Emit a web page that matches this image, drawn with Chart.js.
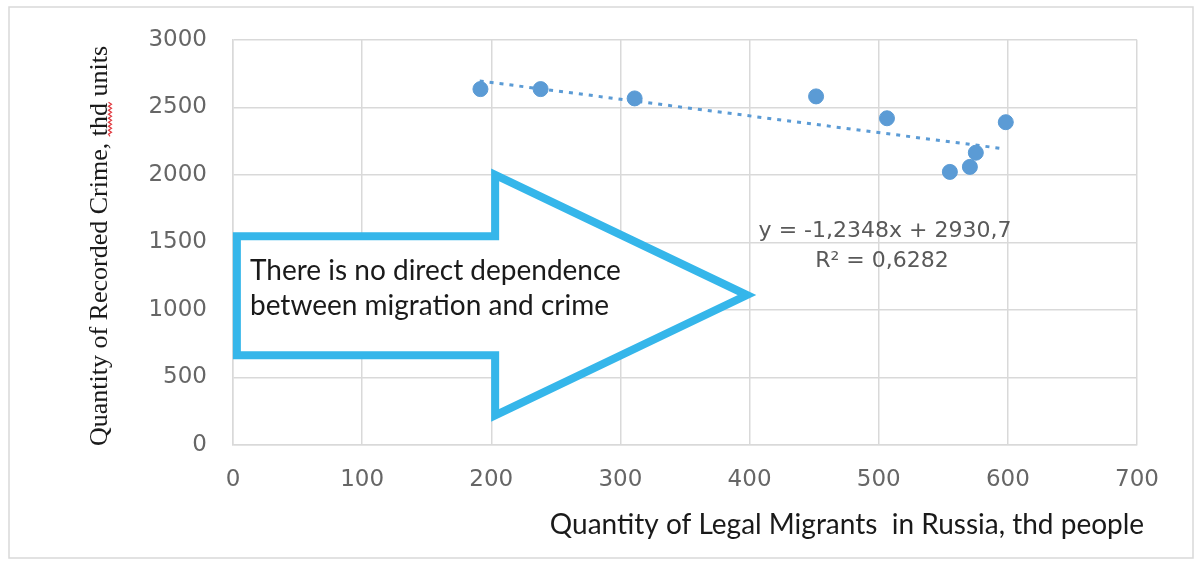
<!DOCTYPE html>
<html>
<head>
<meta charset="utf-8">
<script src="https://cdn.jsdelivr.net/npm/chart.js@4.4.0/dist/chart.umd.min.js"></script>
<style>
  html, body { margin: 0; padding: 0; background: #fff; }
  #wrap { width: 1198px; height: 563px; position: relative; }
</style>
</head>
<body>
<div id="wrap"><canvas id="migrationChart"></canvas></div>
<script>
// Legal migrants (thd people) vs recorded crime (thd units)
const migrants = [191.6, 238.2, 311, 451.5, 506.4, 598.4, 575.2, 570.6, 555.1];
const crimes = [2635, 2635, 2566, 2581, 2419, 2390, 2164, 2059, 2022];

// linear trendline end points (y = -1,2348x + 2930,7)
const trendX = [191, 598];
const trendY = [2695, 2192];

const xTicks = [0, 100, 200, 300, 400, 500, 600, 700];
const yTicks = [0, 500, 1000, 1500, 2000, 2500, 3000];

const xTitle = 'Quantity of Legal Migrants  in Russia, thd people';
const yTitleMain = 'Quantity of Recorded Crime, ';
const yTitleWord = 'thd';
const yTitleEnd = ' units';
const equationText = 'y = -1,2348x + 2930,7';
const rSquaredText = 'R² = 0,6282';
const noteLines = ['There is no direct dependence', 'between migration and crime'];

const BLUE = '#5b9bd5';
const GRID = '#d9d9d9';

const decorPlugin = {
    id: 'decor',
    beforeDraw(chart) {
        const ctx = chart.ctx;
        ctx.save();
        ctx.fillStyle = '#ffffff';
        ctx.fillRect(0, 0, chart.width, chart.height);
        ctx.strokeStyle = '#d9d9d9';
        ctx.lineWidth = 1.5;
        ctx.strokeRect(9, 7, chart.width - 14, chart.height - 12);
        ctx.restore();
    },
    afterDraw(chart) {
        const ctx = chart.ctx;
        const xs = chart.scales.x;
        const ys = chart.scales.y;

        // big arrow annotation, in data units
        const arrow = [[3, 1545], [203, 1545], [203, 2000], [398, 1110],
                       [203, 220], [203, 665], [3, 665]];
        ctx.save();
        ctx.beginPath();
        arrow.forEach(function(p, i) {
            const px = xs.getPixelForValue(p[0]);
            const py = ys.getPixelForValue(p[1]);
            if (i === 0) ctx.moveTo(px, py); else ctx.lineTo(px, py);
        });
        ctx.closePath();
        ctx.fillStyle = '#ffffff';
        ctx.fill();
        ctx.lineWidth = 8;
        ctx.lineJoin = 'miter';
        ctx.strokeStyle = '#35b6ea';
        ctx.stroke();

        ctx.fillStyle = '#1a1a1a';
        ctx.font = '28px Lato';
        ctx.textAlign = 'left';
        ctx.textBaseline = 'middle';
        ctx.fillText(noteLines[0], 250, 271);
        ctx.fillText(noteLines[1], 250, 306);

        // trendline label
        ctx.fillStyle = '#595959';
        ctx.font = '22px "DejaVu Sans"';
        ctx.textAlign = 'center';
        ctx.fillText(equationText, 885, 231);
        ctx.fillText(rSquaredText, 882, 261);

        // x axis title
        ctx.fillStyle = '#1a1a1a';
        ctx.font = '28px Lato';
        ctx.fillText(xTitle, 847, 525);

        // y axis title, rotated
        ctx.translate(100, 246);
        ctx.rotate(-Math.PI / 2);
        ctx.font = '26px "Liberation Serif"';
        const full = yTitleMain + yTitleWord + yTitleEnd;
        const w = ctx.measureText(full).width;
        const w1 = ctx.measureText(yTitleMain).width;
        const w2 = ctx.measureText(yTitleWord).width;
        ctx.textAlign = 'left';
        ctx.fillText(full, -w / 2, 0);
        // spell-check squiggle under "thd"
        ctx.beginPath();
        ctx.strokeStyle = '#e0393e';
        ctx.lineWidth = 1.2;
        let sx = -w / 2 + w1;
        const ex = sx + w2;
        let up = true;
        ctx.moveTo(sx, 10);
        while (sx < ex) {
            sx += 2;
            ctx.lineTo(sx, up ? 8.5 : 11.5);
            up = !up;
        }
        ctx.stroke();
        ctx.restore();
    }
};

const ctx = document.getElementById('migrationChart').getContext('2d');
new Chart(ctx, {
    type: 'scatter',
    data: {
        datasets: [{
            label: 'Crime',
            data: migrants.map(function(m, i) { return { x: m, y: crimes[i] }; }),
            backgroundColor: BLUE,
            borderColor: BLUE,
            pointRadius: 7.5,
            pointHoverRadius: 7.5,
            order: 1
        }, {
            label: 'Trend',
            type: 'line',
            data: trendX.map(function(t, i) { return { x: t, y: trendY[i] }; }),
            borderColor: BLUE,
            borderWidth: 3,
            borderDash: [4, 6],
            pointRadius: 0,
            fill: false,
            order: 2
        }]
    },
    options: {
        responsive: true,
        maintainAspectRatio: false,
        animation: false,
        layout: {
            padding: { left: 0, right: 61, top: 34, bottom: 0 }
        },
        plugins: {
            legend: { display: false },
            tooltip: { enabled: false }
        },
        scales: {
            x: {
                type: 'linear',
                min: 0,
                max: 700,
                afterBuildTicks: function(scale) {
                    scale.ticks = xTicks.map(function(v) { return { value: v }; });
                },
                afterFit: function(scale) { scale.height = 118; },
                grid: { color: GRID, lineWidth: 1.5, drawTicks: false },
                border: { color: GRID, width: 1.5 },
                ticks: {
                    padding: 21,
                    color: '#666666',
                    font: { family: 'DejaVu Sans', size: 23 },
                    maxRotation: 0,
                    callback: function(value) { return String(value); }
                }
            },
            y: {
                type: 'linear',
                min: 0,
                max: 3000,
                afterBuildTicks: function(scale) {
                    scale.ticks = yTicks.map(function(v) { return { value: v }; });
                },
                afterFit: function(scale) { scale.width = 233; },
                grid: { color: GRID, lineWidth: 1.5, drawTicks: false },
                border: { color: GRID, width: 1.5 },
                ticks: {
                    padding: 26,
                    color: '#666666',
                    font: { family: 'DejaVu Sans', size: 23 },
                    callback: function(value) { return String(value); }
                }
            }
        }
    },
    plugins: [decorPlugin]
});
</script>
</body>
</html>
